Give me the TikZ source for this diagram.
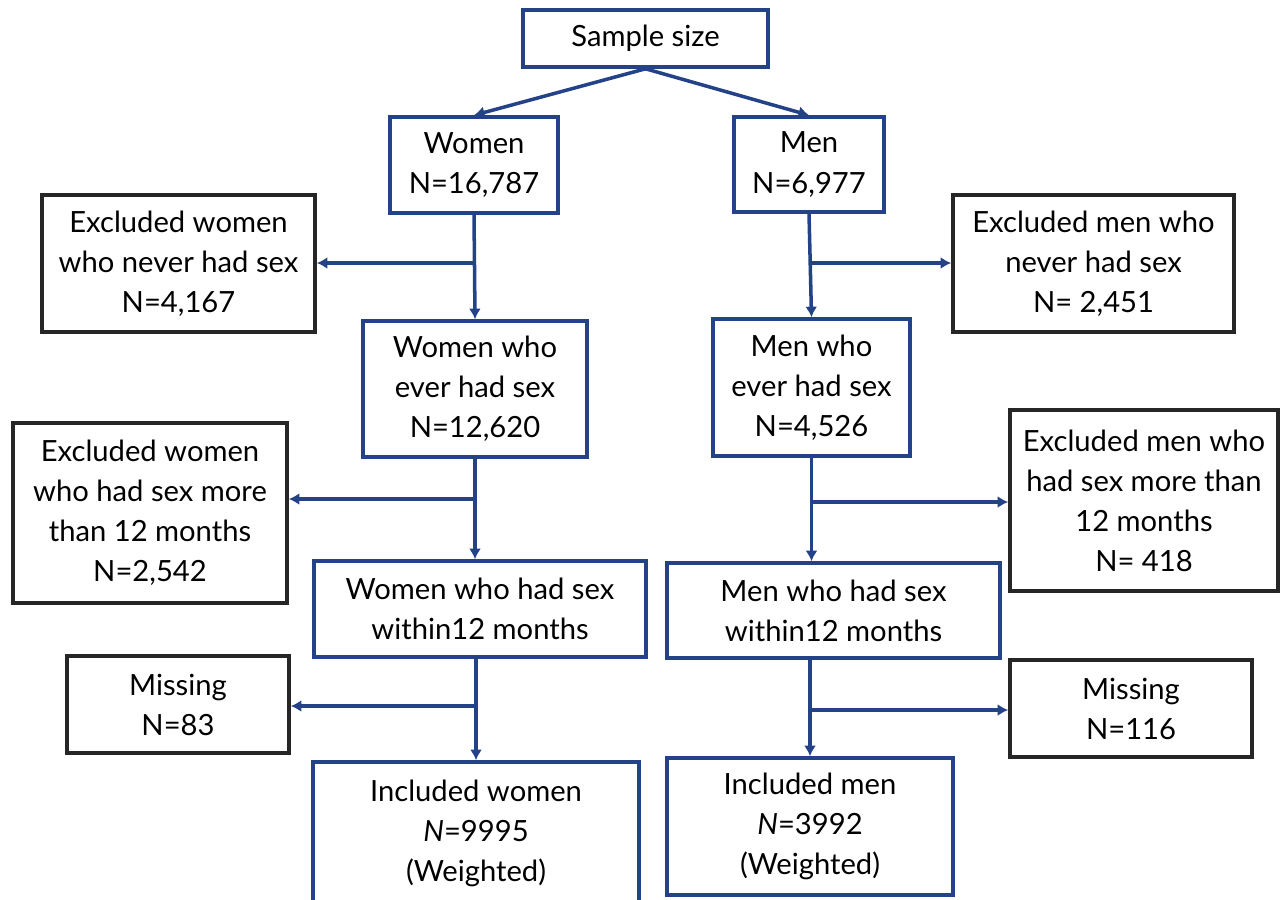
\documentclass[tikz,border=0pt]{standalone}
\usepackage{fontspec}
\setmainfont{Lato}
\usetikzlibrary{arrows.meta,positioning,calc}
\definecolor{navy}{RGB}{36,66,136}
\tikzset{
    box/.style={draw, line width=1pt, align=center, inner sep=0pt,
        font=\fontsize{8.3}{11.4}\selectfont},
    bluebox/.style={box, draw=navy},
    blackbox/.style={box, draw=black!85},
    arr/.style={navy, line width=1pt, -{Latex[length=3pt,width=3.4pt]}}
}

\begin{document}
\begin{tikzpicture}[x=0.01cm, y=-0.01cm]
    \useasboundingbox (0,0) rectangle (1280,899);

    % Main path
    \node[bluebox, minimum width=2.45cm, minimum height=0.57cm] (sample) at (645.5,38.5) {Sample size};
    \node[bluebox, minimum width=1.68cm, minimum height=0.96cm] (women) at (474,165) {Women\\N=16,787};
    \node[bluebox, minimum width=1.50cm, minimum height=0.95cm] (men) at (809,164.5) {Men\\N=6,977};

    \node[bluebox, minimum width=2.24cm, minimum height=1.36cm] (wever) at (475,389) {Women who\\ever had sex\\N=12,620};
    \node[bluebox, minimum width=1.97cm, minimum height=1.37cm] (mever) at (811.5,387.5) {Men who\\ever had sex\\N=4,526};

    \node[bluebox, minimum width=3.32cm, minimum height=0.96cm] (wwithin) at (480,609) {Women who had sex\\within12 months};
    \node[bluebox, minimum width=3.33cm, minimum height=0.95cm] (mwithin) at (833.5,610.5) {Men who had sex\\within12 months};

    \node[bluebox, minimum width=3.26cm, minimum height=1.43cm] (incw) at (476,833.5) {Included women\\\textit{N}=9995\\(Weighted)};
    \node[bluebox, minimum width=2.86cm, minimum height=1.37cm] (incm) at (810,826.5) {Included men\\\textit{N}=3992\\(Weighted)};

    % Exclusions
    \node[blackbox, minimum width=2.73cm, minimum height=1.37cm] (exw1) at (178.5,263.5) {Excluded women\\who never had sex\\N=4,167};
    \node[blackbox, minimum width=2.81cm, minimum height=1.37cm] (exm1) at (1093.5,263.5) {Excluded men who\\never had sex\\N= 2,451};
    \node[blackbox, minimum width=2.74cm, minimum height=1.80cm] (exw2) at (150,513) {Excluded women\\who had sex more\\than 12 months\\N=2,542};
    \node[blackbox, minimum width=2.68cm, minimum height=1.81cm] (exm2) at (1144,500.5) {Excluded men who\\had sex more than\\12 months\\N= 418};
    \node[blackbox, minimum width=2.22cm, minimum height=0.97cm] (missw) at (178,704.5) {Missing\\N=83};
    \node[blackbox, minimum width=2.42cm, minimum height=0.97cm] (missm) at (1131,708.5) {Missing\\N=116};

    % Split points
    \coordinate (w1) at (475,263);
    \coordinate (m1) at (811,263);
    \coordinate (w2) at (475,499);
    \coordinate (m2) at (812,502);
    \coordinate (w3) at (475,706);
    \coordinate (m3) at (812,710);

    % Arrows down
    \draw[arr] (sample.south) -- (women.north);
    \draw[arr] (sample.south) -- (men.north);
    \draw[arr] (women.south) -- (wever.north);
    \draw[arr] (men.south) -- (mever.north);
    \draw[arr] (wever.south) -- (wwithin.north -| wever.south);
    \draw[arr] (mever.south) -- (mwithin.north -| mever.south);
    \draw[arr] (wwithin.south -| incw.north) -- (incw.north);
    \draw[arr] (mwithin.south -| incm.north) -- (incm.north);

    % Arrows out
    \draw[arr] (w1) -- (exw1.east |- w1);
    \draw[arr] (m1) -- (exm1.west |- m1);
    \draw[arr] (w2) -- (exw2.east |- w2);
    \draw[arr] (m2) -- (exm2.west |- m2);
    \draw[arr] (w3) -- (missw.east |- w3);
    \draw[arr] (m3) -- (missm.west |- m3);
\end{tikzpicture}
\end{document}
